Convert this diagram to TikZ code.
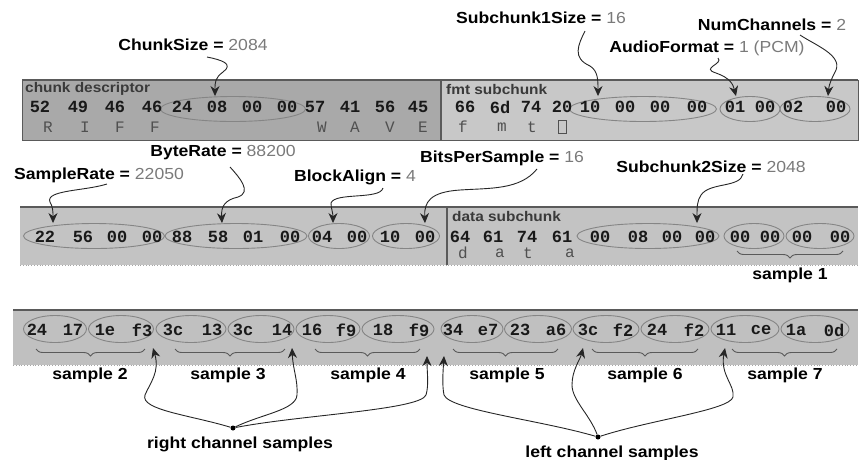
\documentclass[tikz,border=0pt]{standalone}
\usepackage{fontspec}
\setmainfont{Liberation Sans}
\newfontfamily\labfont{Liberation Sans}[FakeStretch=1.1]
\newfontfamily\hexfont{Liberation Mono}
\usetikzlibrary{shapes.geometric,arrows.meta,decorations.pathreplacing}
\definecolor{darkbox}{HTML}{A9A9A9}
\definecolor{lightbox}{HTML}{C8C8C8}
\definecolor{midbox}{HTML}{C3C3C3}
\definecolor{rowbox}{HTML}{C0C0C0}
\definecolor{edgegray}{HTML}{5A5A5A}
\definecolor{ellgray}{HTML}{858585}
\definecolor{numgray}{HTML}{7A7A7A}
\definecolor{ascgray}{HTML}{505050}
\definecolor{titlegray}{HTML}{3A3A3A}
\newcommand\valtxt[1]{{\mdseries\color{numgray}#1}}
\begin{document}
\begin{tikzpicture}[x=1pt,y=-1pt,
  lab/.style={font=\labfont\fontsize{16}{18}\selectfont\bfseries, inner sep=0pt, text=black},
  sectitle/.style={font=\labfont\fontsize{14}{16}\selectfont\bfseries, inner sep=0pt, text=titlegray, anchor=west},
  hexb/.style={font=\hexfont\fontsize{17}{19}\selectfont\bfseries, inner sep=0pt, text=black!90},
  ascb/.style={font=\hexfont\fontsize{16}{18}\selectfont, inner sep=0pt, text=ascgray},
  ell/.style={ellipse, draw=ellgray, line width=0.9pt, inner sep=0pt},
  conn/.style={draw=black!85, line width=0.9pt, -{Stealth[length=10pt,width=9pt]}},
  brc/.style={draw=edgegray, line width=0.9pt, decorate, decoration={brace, mirror, amplitude=7pt}},
  dotnode/.style={circle, fill=black, inner sep=0pt, minimum size=5pt}
]
\useasboundingbox (0,0) rectangle (861,459);

% ---------------- Row 1 boxes
\fill[darkbox] (22,80) rectangle (441,140);
\fill[lightbox] (441,80) rectangle (858,140);
\draw[edgegray, line width=1pt] (22,80) rectangle (858,140);
\draw[edgegray, line width=2pt] (22,80) -- (858,80);
\draw[edgegray, line width=1.5pt] (441,80) -- (441,140);
\node[sectitle] (t1) at (25,89) {chunk descriptor};
\node[sectitle] (t2) at (446,89) {fmt subchunk};

% ellipses row 1
\node[ell, minimum width=145pt, minimum height=25pt] (ecs) at (233,109) {};
\node[ell, minimum width=147pt, minimum height=25pt] (es1) at (643,109) {};
\node[ell, minimum width=60pt, minimum height=25pt] (eaf) at (750,109) {};
\node[ell, minimum width=70pt, minimum height=25pt] (enc) at (815,109) {};

\foreach \px/\hx [count=\i] in {40/52,78/49,115/46,152/46,182/24,217/08,252/00,287/00,315/57,350/41,385/56,418/45,465/66,500/6d,531/74,562/20,590/10,625/00,660/00,697/00,735/01,765/00,793/02,836/00}
  \node[hexb] (ha\i) at (\px,107) {\hx};
\foreach \px/\hx [count=\i] in {48/R,85/I,120/F,155/F,322/W,355/A,390/V,423/E,463/f,502/m,532/t}
  \node[ascb] (aa\i) at (\px,127) {\hx};
\node[draw=ascgray, line width=0.8pt, minimum width=8pt, minimum height=13pt, inner sep=0pt] (abox) at (562,127) {};

% labels row 1
\node[lab] (lcs) at (193,45) {ChunkSize = \valtxt{2084}};
\node[lab] (ls1) at (541,18) {Subchunk1Size = \valtxt{16}};
\node[lab] (lnc) at (772,25) {NumChannels = \valtxt{2}};
\node[lab] (laf) at (707,48) {AudioFormat = \valtxt{1 (PCM)}};

\coordinate (csA) at (207,57);
\coordinate (s1A) at (585,31);
\coordinate (afA) at (718,58);
\coordinate (ncA) at (800,35);
\draw[conn] (csA) .. controls (222,60) and (234,64) .. (223,72) .. controls (215,78) and (215,82) .. ([xshift=-18pt]ecs.north);
\draw[conn] (s1A) .. controls (578,45) and (572,58) .. (590,66) .. controls (598,71) and (598,80) .. ([xshift=-45pt]es1.north);
\draw[conn] (afA) .. controls (724,64) and (700,68) .. (716,73) .. controls (730,78) and (733,84) .. ([xshift=-14pt]eaf.north);
\draw[conn] (ncA) .. controls (815,45) and (842,55) .. (836,70) .. controls (832,78) and (829,84) .. ([xshift=13pt]enc.north);

% ---------------- Row 2 boxes
\fill[midbox] (20,207) rectangle (858,265);
\draw[edgegray, line width=2pt] (20,207) -- (858,207);
\draw[black!35, line width=0.8pt, dotted] (20,265) -- (858,265);
\draw[edgegray, line width=1.5pt] (447,207) -- (447,265);
\node[sectitle] (t3) at (452,216) {data subchunk};

\node[ell, minimum width=141pt, minimum height=25pt] (esr) at (94,236) {};
\node[ell, minimum width=142pt, minimum height=25pt] (ebr) at (236,236) {};
\node[ell, minimum width=61pt, minimum height=25pt] (eba) at (339,236) {};
\node[ell, minimum width=67pt, minimum height=25pt] (ebp) at (406,236) {};
\node[ell, minimum width=142pt, minimum height=25pt] (es2) at (648,236) {};
\node[ell, minimum width=60pt, minimum height=25pt] (ed1) at (754,236) {};
\node[ell, minimum width=68pt, minimum height=25pt] (ed2) at (820,236) {};

\foreach \px/\hx [count=\i] in {45/22,83/56,117/00,152/00,182/88,218/58,253/01,290/00,322/04,357/00,390/10,425/00,460/64,493/61,527/74,562/61,600/00,638/08,672/00,705/00,740/00,770/00,802/00,840/00}
  \node[hexb] (hb\i) at (\px,237) {\hx};
\foreach \px/\hx [count=\i] in {463/d,500/a,528/t,570/a}
  \node[ascb] (ab\i) at (\px,253) {\hx};

\coordinate (b1L) at (737,251);
\coordinate (b1R) at (843,251);
\draw[brc] (b1L) -- (b1R);
\node[lab] (smp1) at (790,275) {sample 1};

% labels row 2
\node[lab] (lbr) at (223,153) {ByteRate = \valtxt{88200}};
\node[lab] (lsr) at (99,175) {SampleRate = \valtxt{22050}};
\node[lab] (lba) at (355,177) {BlockAlign = \valtxt{4}};
\node[lab] (lbp) at (502,158) {BitsPerSample = \valtxt{16}};
\node[lab] (ls2) at (711,167) {Subchunk2Size = \valtxt{2048}};

\coordinate (brA) at (230,167);
\coordinate (srA) at (107,184);
\coordinate (baA) at (383,188);
\coordinate (bpA) at (537,169);
\coordinate (s2A) at (743,174);
\draw[conn] (brA) .. controls (240,178) and (252,192) .. (238,197) .. controls (225,200) and (221,206) .. ([xshift=-14pt]ebr.north);
\draw[conn] (srA) .. controls (85,191) and (45,190) .. (50,202) .. controls (53,207) and (53,212) .. ([xshift=-41pt]esr.north);
\draw[conn] (baA) .. controls (380,200) and (335,192) .. (331,203) .. controls (331,208) and (333,213) .. ([xshift=-6pt]eba.north);
\draw[conn] (bpA) .. controls (520,190) and (490,188) .. (460,190) .. controls (430,192) and (424,202) .. ([xshift=19pt]ebp.north);
\draw[conn] (s2A) .. controls (740,188) and (710,182) .. (701,195) .. controls (697,201) and (697,207) .. ([xshift=49pt]es2.north);

% ---------------- Row 3
\fill[rowbox] (13,310) rectangle (858,365);
\draw[edgegray, line width=2pt] (13,310) -- (858,310);
\draw[black!35, line width=0.8pt, dotted] (13,365) -- (858,365);

\foreach \cx/\w [count=\i] in {55/63,121/65,191/70,261/66,328/64,398/72,472/62,538/67,606/66,675/68,745/68,815/68}
  \node[ell, minimum width=\w pt, minimum height=27pt] (ec\i) at (\cx,329) {};
\foreach \px/\hx [count=\i] in {37/24,73/17,105/1e,142/f3,173/3c,212/13,243/3c,282/14,312/16,346/f9,383/18,419/f9,453/34,488/e7,520/23,556/a6,588/3c,623/f2,657/24,694/f2,726/11,761/ce,796/1a,834/0d}
  \node[hexb] (hc\i) at (\px,330) {\hx};

\foreach \xa/\xb/\cx/\n in {36/145/90/2,175/285/228/3,315/420/368/4,453/558/507/5,592/698/645/6,732/837/785/7}{
  \coordinate (bl\n) at (\xa,349);
  \coordinate (br\n) at (\xb,349);
  \draw[brc] (bl\n) -- (br\n);
  \node[lab] (smp\n) at (\cx,375) {sample \n};
}

\node[dotnode] (rdot) at (233,428) {};
\node[dotnode] (ldot) at (598,437) {};
\node[lab] (rlab) at (240,444) {right channel samples};
\node[lab] (llab) at (612,453) {left channel samples};

\coordinate (r1) at (153,348);
\coordinate (r2) at (292,348);
\coordinate (r3) at (427,356);
\coordinate (l1) at (444,356);
\coordinate (l2) at (583,348);
\coordinate (l3) at (725,348);

\draw[conn] (rdot) .. controls (190,415) and (140,410) .. (145,395) .. controls (150,383) and (160,372) .. (r1);
\draw[conn] (rdot) .. controls (262,414) and (296,410) .. (297,395) .. controls (298,380) and (293,370) .. (r2);
\draw[conn] (rdot) .. controls (300,415) and (420,410) .. (426,395) .. controls (429,385) and (427,372) .. (r3);
\draw[conn] (ldot) .. controls (540,420) and (450,410) .. (444,395) .. controls (442,385) and (443,372) .. (l1);
\draw[conn] (ldot) .. controls (590,415) and (572,400) .. (572,385) .. controls (572,370) and (580,360) .. (l2);
\draw[conn] (ldot) .. controls (650,420) and (730,410) .. (733,397) .. controls (735,385) and (720,375) .. (l3);

\end{tikzpicture}
\end{document}
